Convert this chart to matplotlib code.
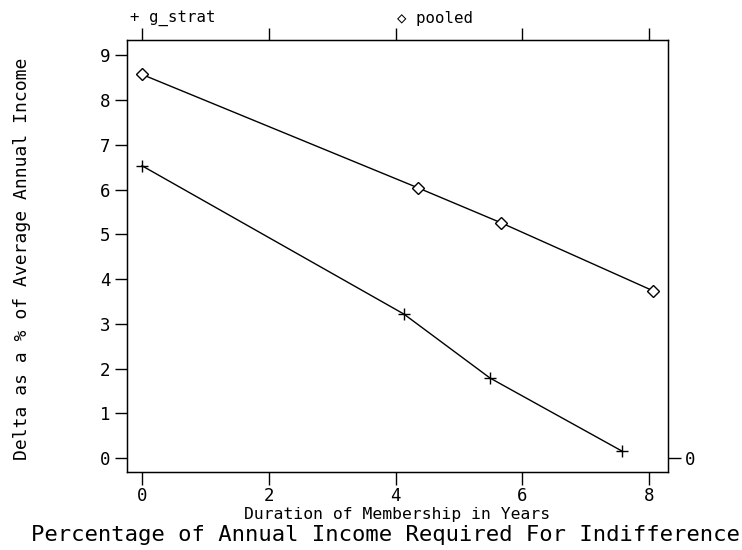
import matplotlib
matplotlib.use("Agg")
import matplotlib.pyplot as plt

# values
years_strat = [0.0, 4.13, 5.49, 7.57]
delta_strat = [6.53, 3.22, 1.79, 0.16]
years_pooled = [0.0, 4.35, 5.66, 8.06]
delta_pooled = [8.57, 6.04, 5.26, 3.74]

x_ticks = [0, 2, 4, 6, 8]
y_ticks = list(range(10))

plt.rcParams['font.family'] = ['DejaVu Sans Mono']

fig = plt.figure(figsize=(7.42, 5.5), dpi=100)
ax = fig.add_axes([0.1712, 0.1418, 0.7291, 0.7855])

ax.plot(years_strat, delta_strat, color='black', lw=1.0, marker='+',
        ms=9, mew=1.0)
ax.plot(years_pooled, delta_pooled, color='black', lw=1.0, marker='D',
        ms=6, mew=1.0, mfc='white')

ax.set_xlim(-0.237, 8.30)
ax.set_ylim(-0.31, 9.34)

ax.set_xticks(x_ticks)
ax.set_yticks(y_ticks)
ax.tick_params(axis='both', direction='out', length=9, width=1.0,
               labelsize=12.5, color='black', pad=3)
ax.tick_params(axis='x', top=True, labeltop=False, pad=2)

for s in ax.spines.values():
    s.set_linewidth(1.0)

# right axis with a single tick at zero
axr = ax.twinx()
axr.set_ylim(ax.get_ylim())
axr.set_yticks([0])
axr.tick_params(axis='y', direction='out', length=9, width=1.0,
                labelsize=12.5, pad=3)

ax.set_xlabel('Duration of Membership in Years', fontsize=11.8, labelpad=1)
ax.set_ylabel('Delta as a % of Average Annual Income', fontsize=13,
              va='center')
ax.yaxis.set_label_coords(-0.194, 0.493)

# legend above the top axis
fig.text(130 / 742, 1 - 18 / 550, '+ g_strat', fontsize=11.3,
         ha='left', va='center')
fig.text(397 / 742, 1 - 18 / 550, '\u25c7 pooled', fontsize=11.3,
         ha='left', va='center', family=['DejaVu Sans Mono', 'DejaVu Sans'])

fig.text(385 / 742, 1 - 535 / 550,
         'Percentage of Annual Income Required For Indifference',
         fontsize=16, ha='center', va='center')

fig.savefig('out.png', dpi=100)
